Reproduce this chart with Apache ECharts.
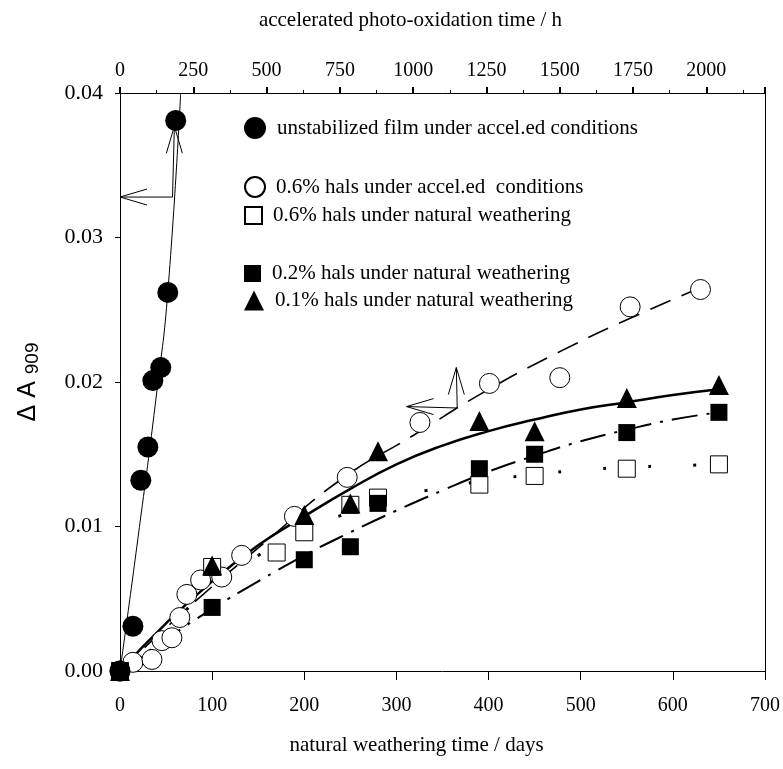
<!DOCTYPE html>
<html>
<head>
<meta charset="utf-8">
<script src="https://cdn.jsdelivr.net/npm/echarts@6/dist/echarts.min.js"></script>
<style>
  html, body { margin: 0; padding: 0; background: #fff; }
  #main { width: 783px; height: 769px; }
</style>
</head>
<body>
<div id="main"></div>
<script>
// unstabilized film, accelerated photo-oxidation (top axis, hours)
var unstabHours = [0, 44, 71, 95, 112, 139, 163, 190];
var unstabDA = [0, 0.0031, 0.0132, 0.0155, 0.0201, 0.0210, 0.0262, 0.0381];
var unstabFitHours = [0, 60, 126, 163, 207];
var unstabFitDA = [0, 0.0090, 0.0194, 0.0262, 0.0400];

// 0.6% hals, accelerated (top axis, hours)
var accelHours = [0, 44, 109, 143, 177, 204, 228, 275, 347, 415, 595, 775, 1023, 1260, 1500, 1740, 1980];
var accelDA = [0, 0.0006, 0.0008, 0.0021, 0.0023, 0.0037, 0.0053, 0.0063, 0.0065, 0.0080, 0.0107, 0.0134, 0.0172, 0.0199, 0.0203, 0.0252, 0.0264];
var accelFitHours = [0, 250, 500, 750, 1000, 1250, 1500, 1750, 2000];
var accelFitDA = [0, 0.0047, 0.0090, 0.0132, 0.0163, 0.0194, 0.0221, 0.0245, 0.0267];

// natural weathering (bottom axis, days)
var hals06Days = [0, 100, 170, 200, 250, 280, 390, 450, 550, 650];
var hals06DA = [0, 0.0072, 0.0082, 0.0096, 0.0115, 0.0120, 0.0129, 0.0135, 0.0140, 0.0143];
var hals02Days = [0, 100, 200, 250, 280, 390, 450, 550, 650];
var hals02DA = [0, 0.0044, 0.0077, 0.0086, 0.0116, 0.0140, 0.0150, 0.0165, 0.0179];
var hals01Days = [0, 100, 200, 250, 280, 390, 450, 550, 650];
var hals01DA = [0, 0.0073, 0.0108, 0.0116, 0.0152, 0.0173, 0.0166, 0.0189, 0.0198];

var fitDays = [0, 50, 100, 150, 200, 250, 300, 350, 400, 450, 500, 550, 600, 650];
var fit06DA = [0, 0.0030, 0.0057, 0.0080, 0.0097, 0.0110, 0.0120, 0.0127, 0.0132, 0.0136, 0.0139, 0.0141, 0.0142, 0.0143];
var fit02DA = [0, 0.0022, 0.0043, 0.0062, 0.0080, 0.0096, 0.0111, 0.0125, 0.0138, 0.0149, 0.0159, 0.0167, 0.0174, 0.0179];
var fit01DA = [0, 0.0033, 0.0062, 0.0087, 0.0107, 0.0126, 0.0143, 0.0156, 0.0166, 0.0174, 0.0181, 0.0186, 0.0191, 0.0195];

var legendNames = [
  'unstabilized film under accel.ed conditions',
  '0.6% hals under accel.ed  conditions',
  '0.6% hals under natural weathering',
  '0.2% hals under natural weathering',
  '0.1% hals under natural weathering'
];

function pairs(xs, ys) {
  return xs.map(function (x, i) { return [x, ys[i]]; });
}

var serif = 'Liberation Serif';
var chart = echarts.init(document.getElementById('main'));

function legendAt(name, top, w, h) {
  return {
    data: [name],
    left: 244,
    top: top,
    padding: 0,
    itemWidth: w,
    itemHeight: h,
    selectedMode: false,
    textStyle: { fontFamily: serif, fontSize: 21, color: '#000', padding: [0, 0, 0, 6] }
  };
}

function fitLine(name, xIdx, data, type, width) {
  return {
    name: name, type: 'line', xAxisIndex: xIdx, data: data,
    smooth: true, showSymbol: false, silent: true,
    lineStyle: { color: '#000', width: width, type: type },
    z: 2
  };
}

var option = {
  animation: false,
  backgroundColor: '#fff',
  grid: { left: 120, right: 16, top: 93, bottom: 98 },
  legend: [
    legendAt(legendNames[0], 117, 22, 22),
    legendAt(legendNames[1], 176, 20, 20),
    legendAt(legendNames[2], 205, 17, 17),
    legendAt(legendNames[3], 263, 17, 17),
    legendAt(legendNames[4], 290, 20, 20)
  ],
  xAxis: [{
    type: 'value', position: 'bottom', min: 0, max: 700, interval: 100,
    name: 'natural weathering time / days', nameLocation: 'middle', nameGap: 64,
    nameTextStyle: { fontFamily: serif, fontSize: 21, color: '#000', padding: [0, 52, 0, 0] },
    axisLine: { onZero: false, lineStyle: { color: '#000', width: 1 } },
    axisTick: { inside: false, length: 9, lineStyle: { color: '#000' } },
    axisLabel: { fontFamily: serif, fontSize: 20, color: '#000', margin: 25 },
    splitLine: { show: false }
  }, {
    type: 'value', position: 'top', min: 0, max: 2200, interval: 250,
    name: 'accelerated photo-oxidation time / h', nameLocation: 'middle', nameGap: 62,
    nameTextStyle: { fontFamily: serif, fontSize: 21, color: '#000', padding: [0, 64, 0, 0] },
    axisLine: { onZero: false, lineStyle: { color: '#000', width: 1 } },
    axisTick: { inside: false, length: 6, lineStyle: { color: '#000', width: 2 } },
    minorTick: { show: true, splitNumber: 2, length: 3, lineStyle: { color: '#000' } },
    axisLabel: {
      fontFamily: serif, fontSize: 20, color: '#000', margin: 12,
      formatter: function (v) { return v > 2000 ? '' : String(v); }
    },
    splitLine: { show: false }
  }],
  yAxis: [{
    type: 'value', min: 0, max: 0.04, interval: 0.01,
    name: '{d|Δ A }{s|909}', nameLocation: 'middle', nameGap: 78, nameRotate: 90,
    nameTextStyle: {
      rich: {
        d: { fontFamily: 'Liberation Sans', fontSize: 25, color: '#000' },
        s: { fontFamily: 'Liberation Sans', fontSize: 19, color: '#000', verticalAlign: 'bottom', padding: [9, 0, 0, 0] }
      }
    },
    axisLine: { show: true, onZero: false, lineStyle: { color: '#000', width: 1 } },
    axisTick: { show: true, length: 5, lineStyle: { color: '#000' } },
    axisLabel: {
      fontFamily: serif, fontSize: 22, color: '#000', margin: 17,
      formatter: function (v) { return v.toFixed(2); }
    },
    splitLine: { show: false }
  }, {
    type: 'value', min: 0, max: 0.04, position: 'right',
    axisLine: { show: true, onZero: false, lineStyle: { color: '#000', width: 1 } },
    axisTick: { show: false }, axisLabel: { show: false }, splitLine: { show: false }
  }],
  series: [
    fitLine('fitUnstab', 1, pairs(unstabFitHours, unstabFitDA), 'solid', 1),
    fitLine('fitAccel', 1, pairs(accelFitHours, accelFitDA), [22, 12], 1.6),
    fitLine('fit06', 0, pairs(fitDays, fit06DA), [3, 42], 3),
    fitLine('fit02', 0, pairs(fitDays, fit02DA), [26, 9, 3, 9], 2),
    fitLine('fit01', 0, pairs(fitDays, fit01DA), 'solid', 2.5),
    {
      name: legendNames[1], type: 'scatter', xAxisIndex: 1, data: pairs(accelHours, accelDA),
      symbol: 'circle', symbolSize: 20,
      itemStyle: { color: '#fff', borderColor: '#000', borderWidth: 1, opacity: 1 }, z: 3
    },
    {
      name: legendNames[2], type: 'scatter', xAxisIndex: 0, data: pairs(hals06Days, hals06DA),
      symbol: 'rect', symbolSize: 17,
      itemStyle: { color: '#fff', borderColor: '#000', borderWidth: 1, opacity: 1 }, z: 3
    },
    {
      name: legendNames[3], type: 'scatter', xAxisIndex: 0, data: pairs(hals02Days, hals02DA),
      symbol: 'rect', symbolSize: 17, itemStyle: { color: '#000', opacity: 1 }, z: 3
    },
    {
      name: legendNames[4], type: 'scatter', xAxisIndex: 0, data: pairs(hals01Days, hals01DA),
      symbol: 'triangle', symbolSize: 20, itemStyle: { color: '#000', opacity: 1 }, z: 3
    },
    {
      name: legendNames[0], type: 'scatter', xAxisIndex: 1, data: pairs(unstabHours, unstabDA),
      symbol: 'circle', symbolSize: 21, itemStyle: { color: '#000', opacity: 1 }, z: 4
    }
  ]
};
chart.setOption(option);

// the two annotation arrows (which axis belongs to which curve)
function px(days, da) {
  return chart.convertToPixel({ xAxisIndex: 0, yAxisIndex: 0 }, [days, da]);
}
function arrowHead(tip, dx, dy) {
  // open V head, dx/dy = unit direction the arrow points
  var len = 27, half = 8;
  var bx = tip[0] - dx * len, by = tip[1] - dy * len;
  return {
    type: 'polyline', silent: true,
    shape: { points: [[bx - dy * half, by + dx * half], tip, [bx + dy * half, by - dx * half]] },
    style: { stroke: '#000', lineWidth: 1, fill: null }
  };
}
function arrowPair(joint, upTip, leftTip) {
  return [
    { type: 'polyline', silent: true, shape: { points: [upTip, joint, leftTip] },
      style: { stroke: '#000', lineWidth: 1, fill: null } },
    arrowHead(upTip, 0, -1),
    arrowHead(leftTip, -1, 0)
  ];
}
var arrowJoint1 = [57, 0.0328], arrowUp1 = [59, 0.0377], arrowLeft1 = [0, 0.0328];
var arrowJoint2 = [366, 0.0182], arrowUp2 = [365, 0.0210], arrowLeft2 = [311, 0.0183];
chart.setOption({
  graphic: arrowPair(px(arrowJoint1[0], arrowJoint1[1]), px(arrowUp1[0], arrowUp1[1]), px(arrowLeft1[0], arrowLeft1[1]))
    .concat(arrowPair(px(arrowJoint2[0], arrowJoint2[1]), px(arrowUp2[0], arrowUp2[1]), px(arrowLeft2[0], arrowLeft2[1])))
});
</script>
</body>
</html>
